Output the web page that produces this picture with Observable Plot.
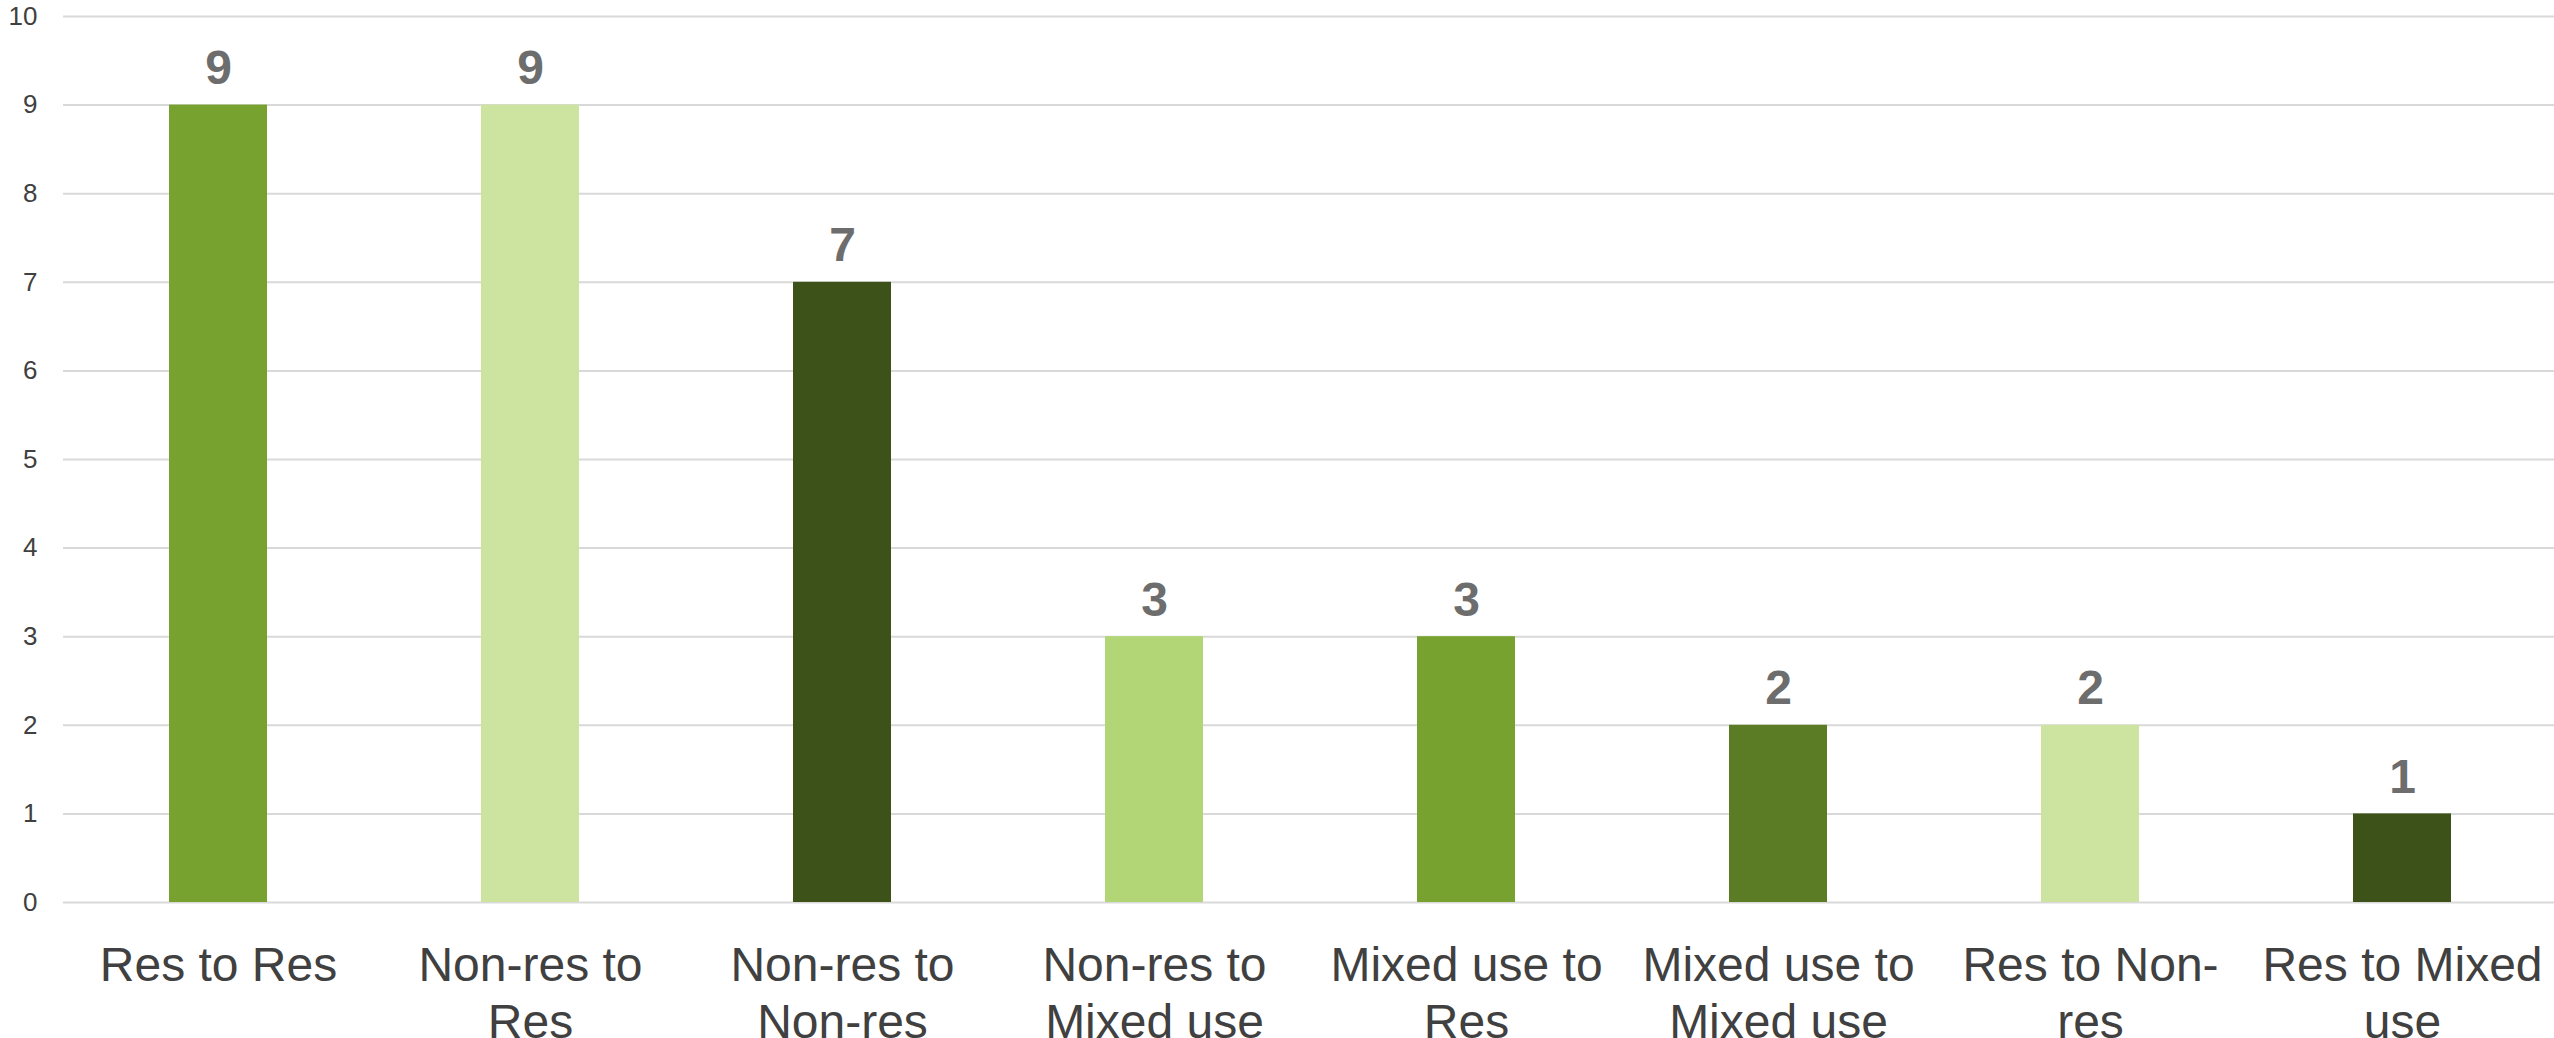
<!DOCTYPE html>
<html>
<head>
<meta charset="utf-8">
<script src="https://cdn.jsdelivr.net/npm/d3@7"></script>
<script src="https://cdn.jsdelivr.net/npm/@observablehq/plot@0.6"></script>
<style>
  html, body { margin: 0; padding: 0; background: #ffffff; }
  #chart svg { display: block; }
</style>
</head>
<body>
<div id="chart"></div>
<script>
// Land-use change types and their counts
const categories = [
  "Res to Res",
  "Non-res to Res",
  "Non-res to Non-res",
  "Non-res to Mixed use",
  "Mixed use to Res",
  "Mixed use to Mixed use",
  "Res to Non-res",
  "Res to Mixed use"
];
const categoryLabels = [
  "Res to Res",
  "Non-res to\nRes",
  "Non-res to\nNon-res",
  "Non-res to\nMixed use",
  "Mixed use to\nRes",
  "Mixed use to\nMixed use",
  "Res to Non-\nres",
  "Res to Mixed\nuse"
];
const counts = [9, 9, 7, 3, 3, 2, 2, 1];
const barColors = ["#78a22f", "#cce4a0", "#3c5219", "#b2d675", "#78a22f", "#5b7b25", "#cce4a0", "#3c5219"];
const yTicks = [0, 1, 2, 3, 4, 5, 6, 7, 8, 9, 10];

const rows = categories.map((c, i) => ({category: c, count: counts[i], color: barColors[i]}));
const labelOf = new Map(categories.map((c, i) => [c, categoryLabels[i]]));

const chart = Plot.plot({
  width: 2554,
  height: 1038,
  marginTop: 16,
  marginBottom: 136,
  marginLeft: 63,
  marginRight: 0,
  style: {fontFamily: "'Liberation Sans', Arial, sans-serif", background: "#ffffff", overflow: "visible"},
  x: {domain: categories, range: [62, 2558], paddingInner: 0.686, paddingOuter: 0.343, label: null},
  y: {domain: [0, 10], label: null},
  marks: [
    Plot.ruleY(yTicks, {stroke: "#d9d9d9", strokeWidth: 2}),
    Plot.barY(rows, {x: "category", y: "count", fill: "color"}),
    Plot.text(rows, {
      x: "category", y: "count", text: d => String(d.count),
      lineAnchor: "bottom", dy: -21,
      fontSize: 48, fontWeight: "bold", fill: "#6d6d6d"
    }),
    Plot.axisY({
      ticks: yTicks, tickSize: 0, tickPadding: 26,
      fontSize: 26, fill: "#404040", label: null
    }),
    Plot.axisX({
      tickSize: 0, tickPadding: 39, tickFormat: c => labelOf.get(c),
      fontSize: 48, lineHeight: 1.17, fill: "#404040", label: null
    })
  ]
});

document.getElementById("chart").appendChild(chart);
</script>
</body>
</html>
